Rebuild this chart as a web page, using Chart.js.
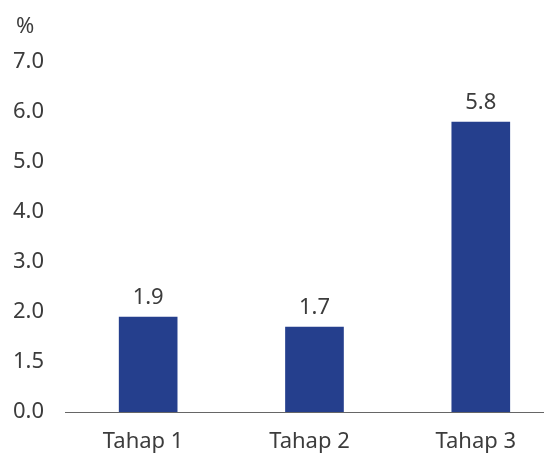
<!DOCTYPE html>
<html>
<head>
<meta charset="utf-8">
<script src="https://cdn.jsdelivr.net/npm/chart.js@4"></script>
<style>
  html, body { margin: 0; padding: 0; background: #fff; }
  #wrap { width: 544px; height: 453px; }
</style>
</head>
<body>
<div id="wrap"><canvas id="chart" width="544" height="453"></canvas></div>
<script>
const categories = ["Tahap 1", "Tahap 2", "Tahap 3"];
const values = [1.9, 1.7, 5.8];
const yTickLabels = ["0.0", "1.5", "2.0", "3.0", "4.0", "5.0", "6.0", "7.0"];
const unitLabel = "%";

const FONT = "'Noto Sans', sans-serif";
const TEXT = "#3c3c3c";

// value labels above bars + unit label top-left
const labelPlugin = {
  id: "labels",
  afterDatasetsDraw(chart) {
    const ctx = chart.ctx;
    ctx.save();
    ctx.fillStyle = TEXT;
    ctx.font = "22px " + FONT;
    ctx.textAlign = "center";
    ctx.textBaseline = "alphabetic";
    chart.getDatasetMeta(0).data.forEach((bar, i) => {
      ctx.fillText(values[i].toFixed(1), bar.x, bar.y - 13);
    });
    ctx.textAlign = "left";
    ctx.fillText(unitLabel, 16, 33);
    ctx.restore();
  }
};

new Chart(document.getElementById("chart"), {
  type: "bar",
  data: {
    datasets: [{
      data: values.map((v, i) => ({ x: i, y: v })),
      backgroundColor: "#253f8d",
      barThickness: 58
    }]
  },
  options: {
    responsive: false,
    animation: false,
    layout: { padding: { top: 62, left: 13, right: 0, bottom: 0 } },
    plugins: { legend: { display: false }, tooltip: { enabled: false } },
    scales: {
      x: {
        type: "linear",
        offset: false,
        min: -0.5,
        max: 2.38,
        grid: { display: false, offset: false },
        border: { display: true, color: "#666666", width: 1 },
        afterBuildTicks: s => { s.ticks = categories.map((c, i) => ({ value: i })); },
        afterFit: s => { s.height = 41; s.paddingRight = 0; s.paddingLeft = 0; },
        ticks: {
          autoSkip: false,
          maxRotation: 0,
          padding: 9,
          labelOffset: -5,
          color: TEXT,
          font: { family: FONT, size: 22 },
          callback: v => categories[v]
        }
      },
      y: {
        min: 0,
        max: 7,
        grid: { display: false },
        border: { display: false },
        afterBuildTicks: s => { s.ticks = yTickLabels.map((t, i) => ({ value: i })); },
        afterFit: s => { s.width = 52; },
        ticks: {
          crossAlign: "far",
          color: TEXT,
          font: { family: FONT, size: 22 },
          callback: v => yTickLabels[v]
        }
      }
    }
  },
  plugins: [labelPlugin]
});
</script>
</body>
</html>
